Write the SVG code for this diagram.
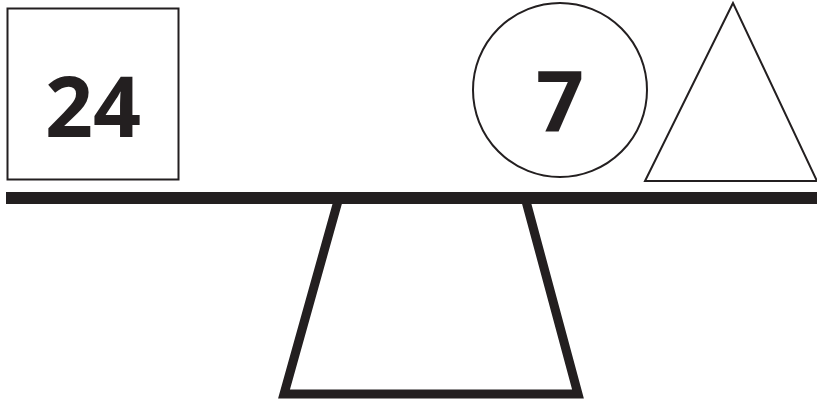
<svg xmlns="http://www.w3.org/2000/svg" width="817" height="400" viewBox="0 0 817 400">
<style>
.thin{fill:#fff;stroke:#231f20;stroke-width:2}
.num{font-family:"Open Sans","DejaVu Sans",sans-serif;font-weight:bold;font-size:84px;fill:#231f20;text-anchor:middle}
</style>
<rect width="817" height="400" fill="#fff"/>
<g id="stand"><path d="M339.4,196 L284,394 L578,394 L524.6,196" fill="none" stroke="#231f20" stroke-width="9" stroke-linejoin="miter"/></g>
<g id="beam"><rect x="6" y="192" width="811" height="12" fill="#231f20"/></g>
<g id="square"><rect class="thin" x="7.5" y="8.5" width="171" height="171"/><text class="num" x="93" y="137">24</text></g>
<g id="circle"><circle class="thin" cx="560" cy="90" r="87"/><text class="num" x="560" y="132">7</text></g>
<g id="triangle"><polygon class="thin" points="733,3 645,181 817,181"/></g>
</svg>
